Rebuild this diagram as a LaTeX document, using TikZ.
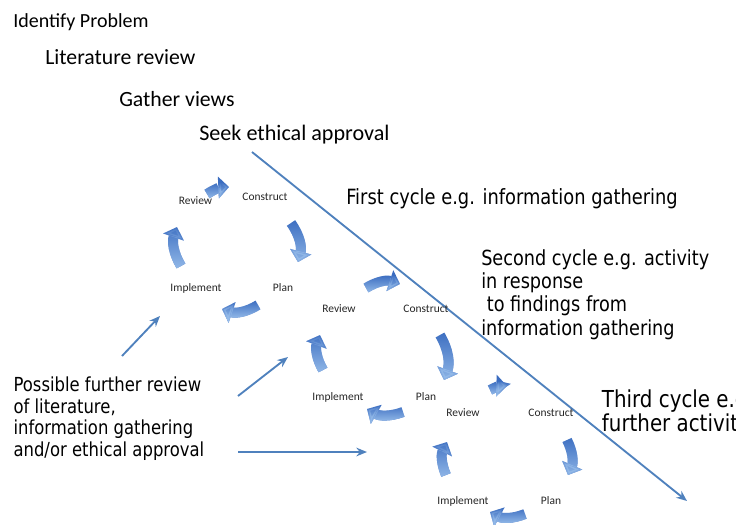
\documentclass[tikz,border=0pt]{standalone}
\usepackage{fontspec}
\setmainfont{Carlito}
\newfontfamily\tah{DejaVu Sans}[FakeStretch=0.85]
\usetikzlibrary{arrows.meta,fadings}
\definecolor{cycdark}{RGB}{58,108,192}
\definecolor{cyclight}{RGB}{150,188,234}
\definecolor{lineblue}{RGB}{79,129,189}
\begin{document}
\begin{tikzpicture}[x=0.75pt,y=-0.75pt,
  toptext/.style={inner sep=0, anchor=base west, font=\fontsize{16.3}{19}\selectfont},
  sidetext/.style={inner sep=0, anchor=base west, align=left},
  cyclab/.style={inner sep=0, anchor=base, text=black!85, font=\fontsize{8.6}{10}\selectfont},
  cycbase/.style={line width=7.5pt, -{Triangle[length=8pt,width=16pt]}},
  cycarrow/.style={cycbase, draw=cycdark, bend left=#1,
    postaction={draw=cyclight, cycbase, path fading=north, fit fading=true}},
  cycarrow/.default=25,
  thinarrow/.style={draw=lineblue, line width=1.4pt, -{Stealth[length=8pt,width=6.5pt]}}]
\useasboundingbox (0,0) rectangle (736,525);
\clip (0,0) rectangle (736,525);

% stages heading the study
\node[toptext, font=\fontsize{15}{18}\selectfont] (ident) at (13,27.3) {Identify Problem};
\node[toptext] (lit) at (45,64) {Literature review};
\node[toptext] (views) at (119,106) {Gather views};
\node[toptext, font=\fontsize{16.6}{19}\selectfont] (ethics) at (199,140) {Seek ethical approval};

% cycle descriptions (multi-line nodes sit on their last baseline)
\node[sidetext, font=\tah\fontsize{15.75}{17.4}\selectfont] (first) at (346,204)
  {First cycle e.g. information gathering};
\node[sidetext, font=\tah\fontsize{15.6}{17.3}\selectfont] (second) at (481,335)
  {Second cycle e.g. activity\\in response\\\ to findings from\\information gathering};
\node[sidetext, font=\tah\fontsize{17.5}{17.8}\selectfont] (third) at (601.7,431.7)
  {Third cycle e.g.\\further activity};
\node[sidetext, font=\tah\fontsize{14.5}{16.3}\selectfont] (further) at (13.3,456.7)
  {Possible further review\\of literature,\\information gathering\\and/or ethical approval};

% the time line across the cycles
\coordinate (dstart) at (252,152);
\coordinate (dend) at (687,501);
\draw[thinarrow] (dstart) -- (dend);

% first cycle
\node[cyclab] (r1) at (195.5,204) {Review};
\node[cyclab] (c1) at (265,200.7) {Construct};
\node[cyclab] (p1) at (283,291.7) {Plan};
\node[cyclab] (i1) at (196,291.7) {Implement};
\coordinate (r1a) at (207,194);  \coordinate (r1b) at (229,187);
\coordinate (c1a) at (291,223);  \coordinate (c1b) at (298,262);
\coordinate (p1a) at (258,305);  \coordinate (p1b) at (222,309);
\coordinate (i1a) at (181,266);  \coordinate (i1b) at (177,227);
\draw[cycarrow=15] (r1a) to (r1b);
\draw[cycarrow] (c1a) to (c1b);
\draw[cycarrow] (p1a) to (p1b);
\draw[cycarrow] (i1a) to (i1b);

% second cycle
\node[cyclab] (r2) at (339,312.7) {Review};
\node[cyclab] (c2) at (426,312.7) {Construct};
\node[cyclab] (p2) at (426,400.7) {Plan};
\node[cyclab] (i2) at (338,400.7) {Implement};
\coordinate (r2a) at (366,288);  \coordinate (r2b) at (400,284);
\coordinate (c2a) at (440,335);  \coordinate (c2b) at (444,380);
\coordinate (p2a) at (403,412);  \coordinate (p2b) at (367,409);
\coordinate (i2a) at (323,370);  \coordinate (i2b) at (320,335);
\draw[cycarrow] (r2a) to (r2b);
\draw[cycarrow] (c2a) to (c2b);
\draw[cycarrow] (p2a) to (p2b);
\draw[cycarrow] (i2a) to (i2b);

% third cycle
\node[cyclab] (r3) at (463,416.7) {Review};
\node[cyclab] (c3) at (551,416.7) {Construct};
\node[cyclab] (p3) at (551,504.3) {Plan};
\node[cyclab] (i3) at (463,504.3) {Implement};
\coordinate (r3a) at (490,390);  \coordinate (r3b) at (507,386);
\coordinate (c3a) at (567,440);  \coordinate (c3b) at (568,475);
\coordinate (p3a) at (525,514);  \coordinate (p3b) at (490,512);
\coordinate (i3a) at (446,475);  \coordinate (i3b) at (447,442);
\draw[cycarrow=15] (r3a) to (r3b);
\draw[cycarrow] (c3a) to (c3b);
\draw[cycarrow] (p3a) to (p3b);
\draw[cycarrow] (i3a) to (i3b);

% returns to earlier stages
\coordinate (f1a) at (122,356);  \coordinate (f1b) at (160,316);
\coordinate (f2a) at (238,396);  \coordinate (f2b) at (288,357);
\coordinate (f3a) at (238,452);  \coordinate (f3b) at (367,452);
\draw[thinarrow] (f1a) -- (f1b);
\draw[thinarrow] (f2a) -- (f2b);
\draw[thinarrow] (f3a) -- (f3b);
\end{tikzpicture}
\end{document}
